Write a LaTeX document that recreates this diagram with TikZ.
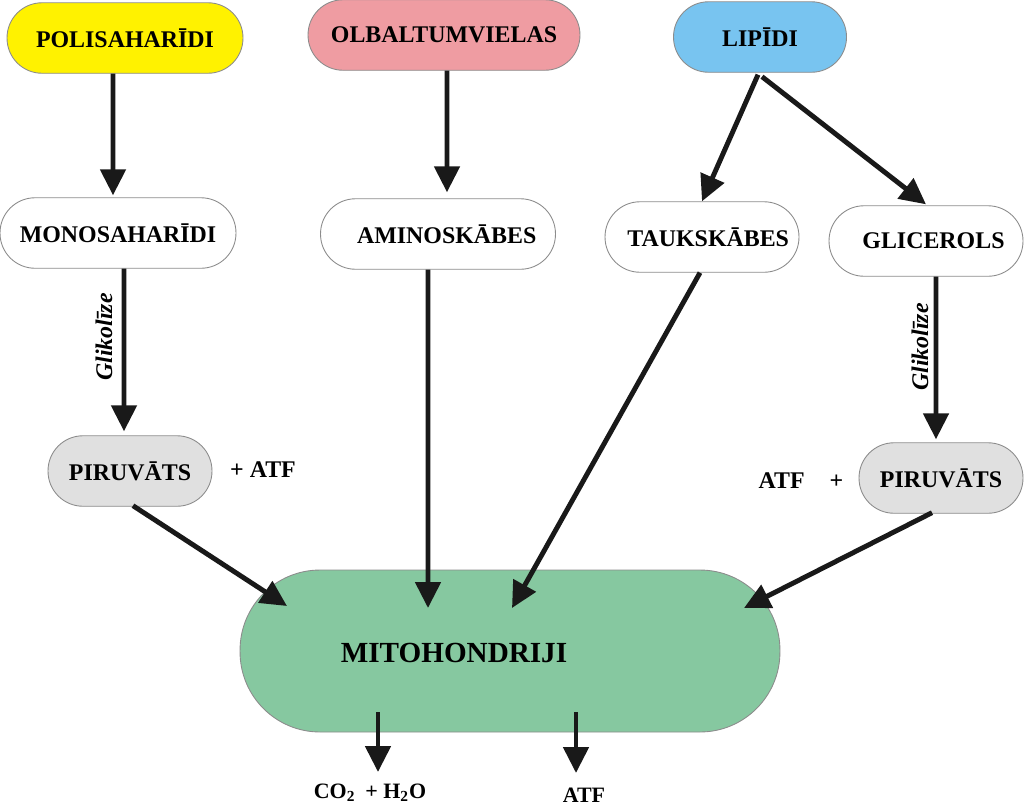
\documentclass[tikz,border=0pt]{standalone}
\usepackage{fontspec}
\setmainfont{Liberation Serif}
\usepackage{xcolor}
\usepackage{tikz}
\usetikzlibrary{arrows.meta}

\definecolor{polisyellow}{RGB}{255,242,0}
\definecolor{olbpink}{RGB}{239,156,162}
\definecolor{lipblue}{RGB}{120,196,240}
\definecolor{pirgray}{RGB}{224,224,224}
\definecolor{mitogreen}{RGB}{134,200,160}

\newcommand{\lblfont}{\fontsize{13.6}{16}\selectfont\bfseries}
\newcommand{\mitofont}{\fontsize{16.6}{20}\selectfont\bfseries}
\newcommand{\outfont}{\fontsize{12.5}{15}\selectfont\bfseries}

\begin{document}
\begin{tikzpicture}[x=0.02cm, y=0.02cm]
    \tikzstyle{pill}=[draw=black!45, line width=0.5pt, rounded corners=0.7cm, minimum height=1.41cm, inner sep=0pt, font=\lblfont]
    \tikzstyle{arr}=[line width=2.8pt, black!90, -{Triangle[length=0.52cm, width=0.5cm]}]
    \tikzstyle{glik}=[rotate=90, font=\fontsize{13.6}{16}\selectfont\bfseries\itshape, inner sep=0pt]
    \useasboundingbox (0,0) rectangle (1024,-806);
    % top row
    \node [pill, fill=polisyellow, minimum width=4.72cm] (polis) at (125,-38) {POLISAHARĪDI};
    \node [pill, fill=olbpink, minimum width=5.44cm] (olbal) at (444,-35) {OLBALTUMVIELAS};
    \node [pill, fill=lipblue, minimum width=3.46cm] (lipidi) at (760,-37) {LIPĪDI};
    % second row
    \node [pill, fill=white, minimum width=4.72cm] (mono) at (118,-233) {MONOSAHARĪDI};
    \node [pill, fill=white, minimum width=4.70cm] (amino) at (438,-234) {\hspace*{0.35cm}AMINOSKĀBES};
    \node [pill, fill=white, minimum width=3.88cm] (tauk) at (702,-237) {\hspace*{0.25cm}TAUKSKĀBES};
    \node [pill, fill=white, minimum width=3.88cm] (glic) at (926,-241) {\hspace*{0.3cm}GLICEROLS};
    % piruvats
    \node [pill, fill=pirgray, minimum width=3.28cm] (pirL) at (130,-471) {PIRUVĀTS};
    \node [pill, fill=pirgray, minimum width=3.28cm] (pirR) at (941,-478) {PIRUVĀTS};
    \node [font=\lblfont] (atfL) at (263,-470) {+ ATF};
    \node [font=\lblfont] (atfR) at (801,-481) {ATF\hspace{0.5cm}+};
    \node [glik] (glikL) at (104,-337) {Glikolīze};
    \node [glik] (glikR) at (920,-347) {Glikolīze};
    % mitohondriji
    \node [draw=black!45, line width=0.5pt, fill=mitogreen, rounded corners=1.6cm, minimum width=10.8cm, minimum height=3.24cm] (mito) at (510,-651) {};
    \node [font=\mitofont] (mitolbl) at (454,-653) {MITOHONDRIJI};
    \node [font=\outfont] (co) at (370,-793) {CO\textsubscript{2}\hspace{0.2cm}+ H\textsubscript{2}O};
    \node [font=\outfont] (atfout) at (584,-795) {ATF};
    % ends inside mitohondriji
    \coordinate (inA) at (287,-606);
    \coordinate (inB) at (428,-608);
    \coordinate (inC) at (512,-608);
    \coordinate (inD) at (744,-608);
    \coordinate (outA) at (378,-712);
    \coordinate (outB) at (576,-712);
    % arrows
    \draw [arr] ([xshift=-0.24cm]polis.south) -- ([xshift=-0.1cm,yshift=0.04cm]mono.north);
    \draw [arr] ([xshift=0.06cm]olbal.south) -- ([xshift=0.18cm,yshift=0.12cm]amino.north);
    \draw [arr] ([xshift=-0.04cm,yshift=-0.04cm]lipidi.south) -- (tauk.north);
    \draw [arr] ([xshift=0.04cm,yshift=-0.08cm]lipidi.south) -- ([yshift=0.02cm]glic.north);
    \draw [arr] ([xshift=0.12cm]mono.south) -- ([xshift=-0.12cm,yshift=0.08cm]pirL.north);
    \draw [arr] ([xshift=0.2cm]glic.south) -- ([xshift=-0.1cm,yshift=0.06cm]pirR.north);
    \draw [arr] ([xshift=-0.2cm]amino.south) -- (inB);
    \draw [arr] ([xshift=-0.04cm]tauk.south) -- (inC);
    \draw [arr] ([xshift=0.06cm,yshift=0.02cm]pirL.south) -- (inA);
    \draw [arr] ([xshift=-0.18cm,yshift=0.02cm]pirR.south) -- (inD);
    \draw [arr] (outA) -- (outA |- 0,-772);
    \draw [arr] (outB) -- (outB |- 0,-773);
\end{tikzpicture}
\end{document}
